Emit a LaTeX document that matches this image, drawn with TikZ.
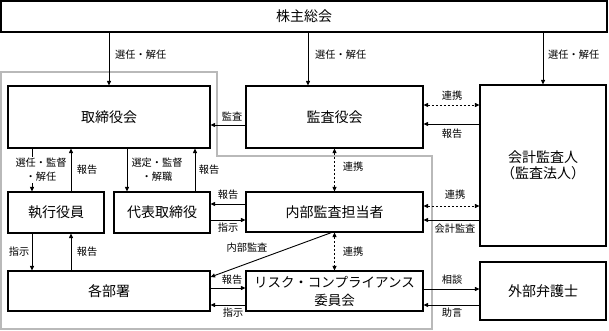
\documentclass[tikz,border=0pt]{standalone}
\usepackage{fontspec}
\setmainfont{Noto Sans CJK JP}
\usetikzlibrary{
    arrows.meta,
    positioning
}
\tikzset{
  box/.style  = {draw, line width=1.1pt, inner sep=0pt, align=center,
                 font=\fontsize{14}{17}\selectfont},
  lbl/.style  = {inner sep=1pt, align=center, font=\fontsize{10.2}{14}\selectfont},
  arr/.style  = {-{Triangle[length=4.5pt,width=4pt]}, line width=0.9pt},
  darr/.style = {{Triangle[length=4.5pt,width=4pt]}-{Triangle[length=4.5pt,width=4pt]},
                 line width=0.9pt, dash pattern=on 2pt off 2pt},
  grp/.style  = {draw=gray!55, line width=1.2pt}
}

\begin{document}
\begin{tikzpicture}[x=1pt, y=-1pt]
\useasboundingbox (0,0) rectangle (609,331);
% group outline
\draw[grp] (1,72) -- (217,72) -- (217,156) -- (432,156) -- (432,329) -- (1,329) -- cycle;
% boxes
\node[box, minimum width=606pt, minimum height=31pt] (kabu) at (304,16.5) {株主総会};
\node[box, minimum width=202pt, minimum height=62pt] (tori) at (109,117) {取締役会};
\node[box, minimum width=177pt, minimum height=62pt] (kansa) at (334.5,117) {監査役会};
\node[box, minimum width=126pt, minimum height=161pt] (kaikei) at (543,165.5) {会計監査人\\[-1pt]（監査法人）};
\node[box, minimum width=96pt, minimum height=41pt] (shikko) at (56,212.5) {執行役員};
\node[box, minimum width=96pt, minimum height=41pt] (daihyo) at (162,212.5) {代表取締役};
\node[box, minimum width=177pt, minimum height=40pt] (naibu) at (334.5,212) {内部監査担当者};
\node[box, minimum width=202pt, minimum height=40pt] (kakubu) at (109,291) {各部署};
\node[box, minimum width=177pt, minimum height=40pt, font=\fontsize{13.5}{18}\selectfont] (risk) at (334.5,291) {リスク・コンプライアンス\\委員会};
\node[box, minimum width=126pt, minimum height=58pt] (bengo) at (543,291) {外部弁護士};
% shareholders
\draw[arr] (kabu.south -| tori.north) -- (tori.north);
\draw[arr] ([xshift=-26.5pt]kabu.south -| kansa.north) -- ([xshift=-26.5pt]kansa.north);
\draw[arr] (kabu.south -| kaikei.north) -- (kaikei.north);
\node[lbl, anchor=west] (l1) at (114,55) {選任・解任};
\node[lbl, anchor=west] (l2) at (314,55) {選任・解任};
\node[lbl, anchor=west] (l3) at (547,55) {選任・解任};
% auditors
\draw[arr] ([yshift=-8pt]kansa.west) -- ([yshift=-8pt]kansa.west -| tori.east);
\node[lbl] (l4) at (232,117) {監査};
\draw[darr] ([yshift=12pt]kansa.east) -- ([yshift=12pt]kansa.east -| kaikei.west);
\node[lbl] (l5) at (452,96) {連携};
\draw[arr] ([yshift=-7pt]kaikei.west |- kansa.east) -- ([yshift=-7pt]kansa.east);
\node[lbl] (l6) at (452,134) {報告};
\draw[darr] (kansa.south) -- (naibu.north);
\node[lbl] (l7) at (353,167) {連携};
% board
\draw[arr] ([xshift=-24pt]tori.south -| shikko.north) -- ([xshift=-24pt]shikko.north);
\node[lbl, fill=white] (l8) at (41,170) {選任・監督\\・解任};
\draw[arr] ([xshift=15pt]shikko.north) -- ([xshift=15pt]shikko.north |- tori.south);
\node[lbl] (l9) at (87,170) {報告};
\draw[arr] ([xshift=-35pt]tori.south -| daihyo.north) -- ([xshift=-35pt]daihyo.north);
\node[lbl] (l10) at (157,170) {選定・監督\\・解職};
\draw[arr] ([xshift=33pt]daihyo.north) -- ([xshift=33pt]daihyo.north |- tori.south);
\node[lbl] (l11) at (209,170) {報告};
% internal audit
\draw[arr] ([yshift=8pt]naibu.west) -- ([yshift=8pt]naibu.west -| daihyo.east);
\node[lbl] (l12) at (228,195) {報告};
\draw[arr] ([yshift=-8pt]naibu.west -| daihyo.east) -- ([yshift=-8pt]naibu.west);
\node[lbl] (l13) at (228,228) {指示};
\draw[darr] ([yshift=6pt]naibu.east) -- ([yshift=6pt]naibu.east -| kaikei.west);
\node[lbl] (l14) at (455,195) {連携};
\draw[arr] ([yshift=-8pt]naibu.east -| kaikei.west) -- ([yshift=-8pt]naibu.east);
\node[lbl] (l15) at (455,229) {会計監査};
\draw[arr] ([xshift=-3pt]naibu.south) -- ([yshift=14pt]kakubu.east);
\node[lbl] (l16) at (247,248) {内部監査};
\draw[darr] (naibu.south) -- (risk.north);
\node[lbl] (l17) at (353,252) {連携};
% departments
\draw[arr] ([xshift=-24pt]shikko.south) -- ([xshift=-24pt]shikko.south |- kakubu.north);
\node[lbl] (l18) at (19,252) {指示};
\draw[arr] ([xshift=15pt]shikko.south |- kakubu.north) -- ([xshift=15pt]shikko.south);
\node[lbl] (l19) at (87,252) {報告};
\draw[arr] ([yshift=3pt]kakubu.east) -- ([yshift=3pt]kakubu.east -| risk.west);
\node[lbl] (l20) at (232,280) {報告};
\draw[arr] ([yshift=-14pt]risk.west) -- ([yshift=-14pt]risk.west -| kakubu.east);
\node[lbl] (l21) at (233,313) {指示};
% lawyer
\draw[arr] ([yshift=2pt]risk.east) -- ([yshift=2pt]risk.east -| bengo.west);
\node[lbl] (l22) at (452,280) {相談};
\draw[arr] ([yshift=-14pt]bengo.west) -- ([yshift=-14pt]bengo.west -| risk.east);
\node[lbl] (l23) at (452,313) {助言};
\end{tikzpicture}
\end{document}
